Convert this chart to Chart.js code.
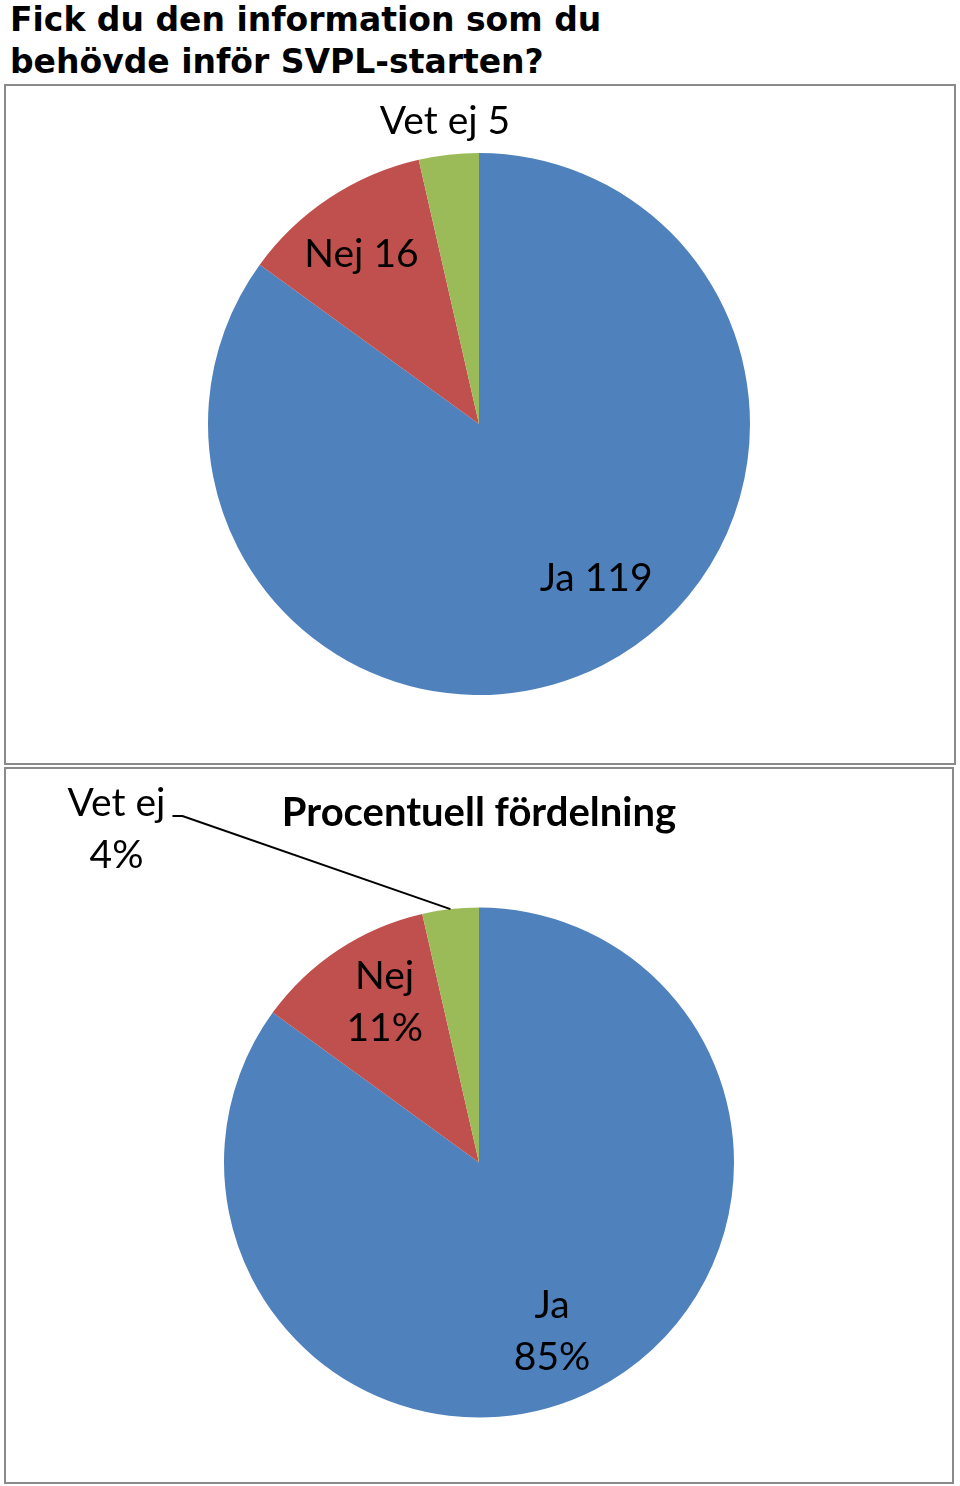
<!DOCTYPE html>
<html lang="sv">
<head>
<meta charset="utf-8">
<script src="https://cdn.jsdelivr.net/npm/chart.js@4.4.1/dist/chart.umd.min.js"></script>
<style>
  html, body { margin: 0; padding: 0; background: #fff; }
  body { width: 960px; height: 1486px; position: relative; overflow: hidden; }
  #rubrik {
    position: absolute; left: 10px; top: -1px;
    font-family: "DejaVu Sans", sans-serif; font-weight: bold;
    font-size: 33px; line-height: 42px; color: #000;
  }
  .panel {
    position: absolute; box-sizing: border-box;
    border: 2px solid #8a8a8a; background: #fff;
  }
  #panel1 { left: 4px; top: 84px; width: 952px; height: 681px; }
  #panel2 { left: 4px; top: 767px; width: 950px; height: 717px; }
  canvas { position: absolute; left: -2px; top: -2px; }
</style>
</head>
<body>
<div id="rubrik">Fick du den information som du<br>behövde inför SVPL-starten?</div>
<div class="panel" id="panel1"><canvas id="diagramAntal"></canvas></div>
<div class="panel" id="panel2"><canvas id="diagramProcent"></canvas></div>

<script>
// DATA
const kategorier = ['Ja', 'Nej', 'Vet ej'];
const antal = [119, 16, 5];
const farger = ['#4F81BD', '#C0504D', '#9BBB59'];
const titelProcent = 'Procentuell fördelning';

const summa = antal.reduce((a, b) => a + b, 0);
const procent = antal.map(v => Math.round(v / summa * 100));

// ETIKETTER - ritas vid varje tårtbits mittvinkel
const etikettPlugin = {
    id: 'etiketter',
    afterDatasetsDraw(chart, args, opts) {
        const ctx = chart.ctx;
        const meta = chart.getDatasetMeta(0);
        ctx.save();
        ctx.font = opts.font;
        ctx.fillStyle = '#000';
        ctx.textAlign = 'center';
        ctx.textBaseline = 'middle';
        meta.data.forEach((arc, i) => {
            const p = arc.getProps(['x', 'y', 'startAngle', 'endAngle', 'outerRadius'], true);
            const mitt = (p.startAngle + p.endAngle) / 2;
            const pos = opts.pos[i];
            const r = p.outerRadius * pos.f;
            const x = p.x + Math.cos(mitt) * r + pos.dx;
            const y = p.y + Math.sin(mitt) * r + pos.dy;
            const rader = opts.text(i);
            const y0 = y - (rader.length - 1) * opts.radhojd / 2;
            rader.forEach((t, k) => ctx.fillText(t, x, y0 + k * opts.radhojd));

            if (pos.linje) {
                const ex = p.x + Math.cos(mitt) * p.outerRadius;
                const ey = p.y + Math.sin(mitt) * p.outerRadius;
                ctx.strokeStyle = '#000';
                ctx.lineWidth = 2;
                ctx.beginPath();
                ctx.moveTo(ex, ey);
                ctx.lineTo(x + pos.linje[0], y + pos.linje[1]);
                ctx.lineTo(x + pos.linje[2], y + pos.linje[3]);
                ctx.stroke();
            }
        });
        ctx.restore();
    }
};

function skapaTarta(id, bredd, hojd, padding, extra) {
    const canvas = document.getElementById(id);
    canvas.width = bredd;
    canvas.height = hojd;
    return new Chart(canvas, {
        type: 'pie',
        data: {
            labels: kategorier,
            datasets: [{
                data: antal,
                backgroundColor: farger,
                borderWidth: 0,
                hoverOffset: 0
            }]
        },
        options: {
            responsive: false,
            animation: false,
            events: [],
            layout: { padding: padding },
            plugins: Object.assign({
                legend: { display: false },
                tooltip: { enabled: false }
            }, extra)
        },
        plugins: [etikettPlugin]
    });
}

Chart.defaults.font.family = 'Lato, "Open Sans", sans-serif';

// Övre diagrammet - antal svar
skapaTarta('diagramAntal', 952, 681, { top: 69, bottom: 70, left: 204, right: 206 }, {
    etiketter: {
        font: '39px Lato',
        radhojd: 52,
        text: i => [kategorier[i] + ' ' + antal[i]],
        pos: [
            { f: 0.7, dx: 31, dy: -15 },
            { f: 0.7, dx: -13, dy: -11 },
            { f: 1.12, dx: 0, dy: -1 }
        ]
    }
});

// Nedre diagrammet - procent
skapaTarta('diagramProcent', 950, 717, { top: 0, bottom: 66, left: 220, right: 220 }, {
    title: {
        display: true,
        text: titelProcent,
        color: '#000',
        font: { size: 40, weight: 'bold', family: 'Lato' },
        padding: { top: 22, bottom: 70 }
    },
    etiketter: {
        font: '39px Lato',
        radhojd: 52,
        text: i => [kategorier[i], procent[i] + '%'],
        pos: [
            { f: 0.7, dx: -8, dy: 10 },
            { f: 0.7, dx: 4, dy: -11 },
            { f: 1.0, dx: -334, dy: -80, linje: [66, -13, 56, -13] }
        ]
    }
});
</script>
</body>
</html>
